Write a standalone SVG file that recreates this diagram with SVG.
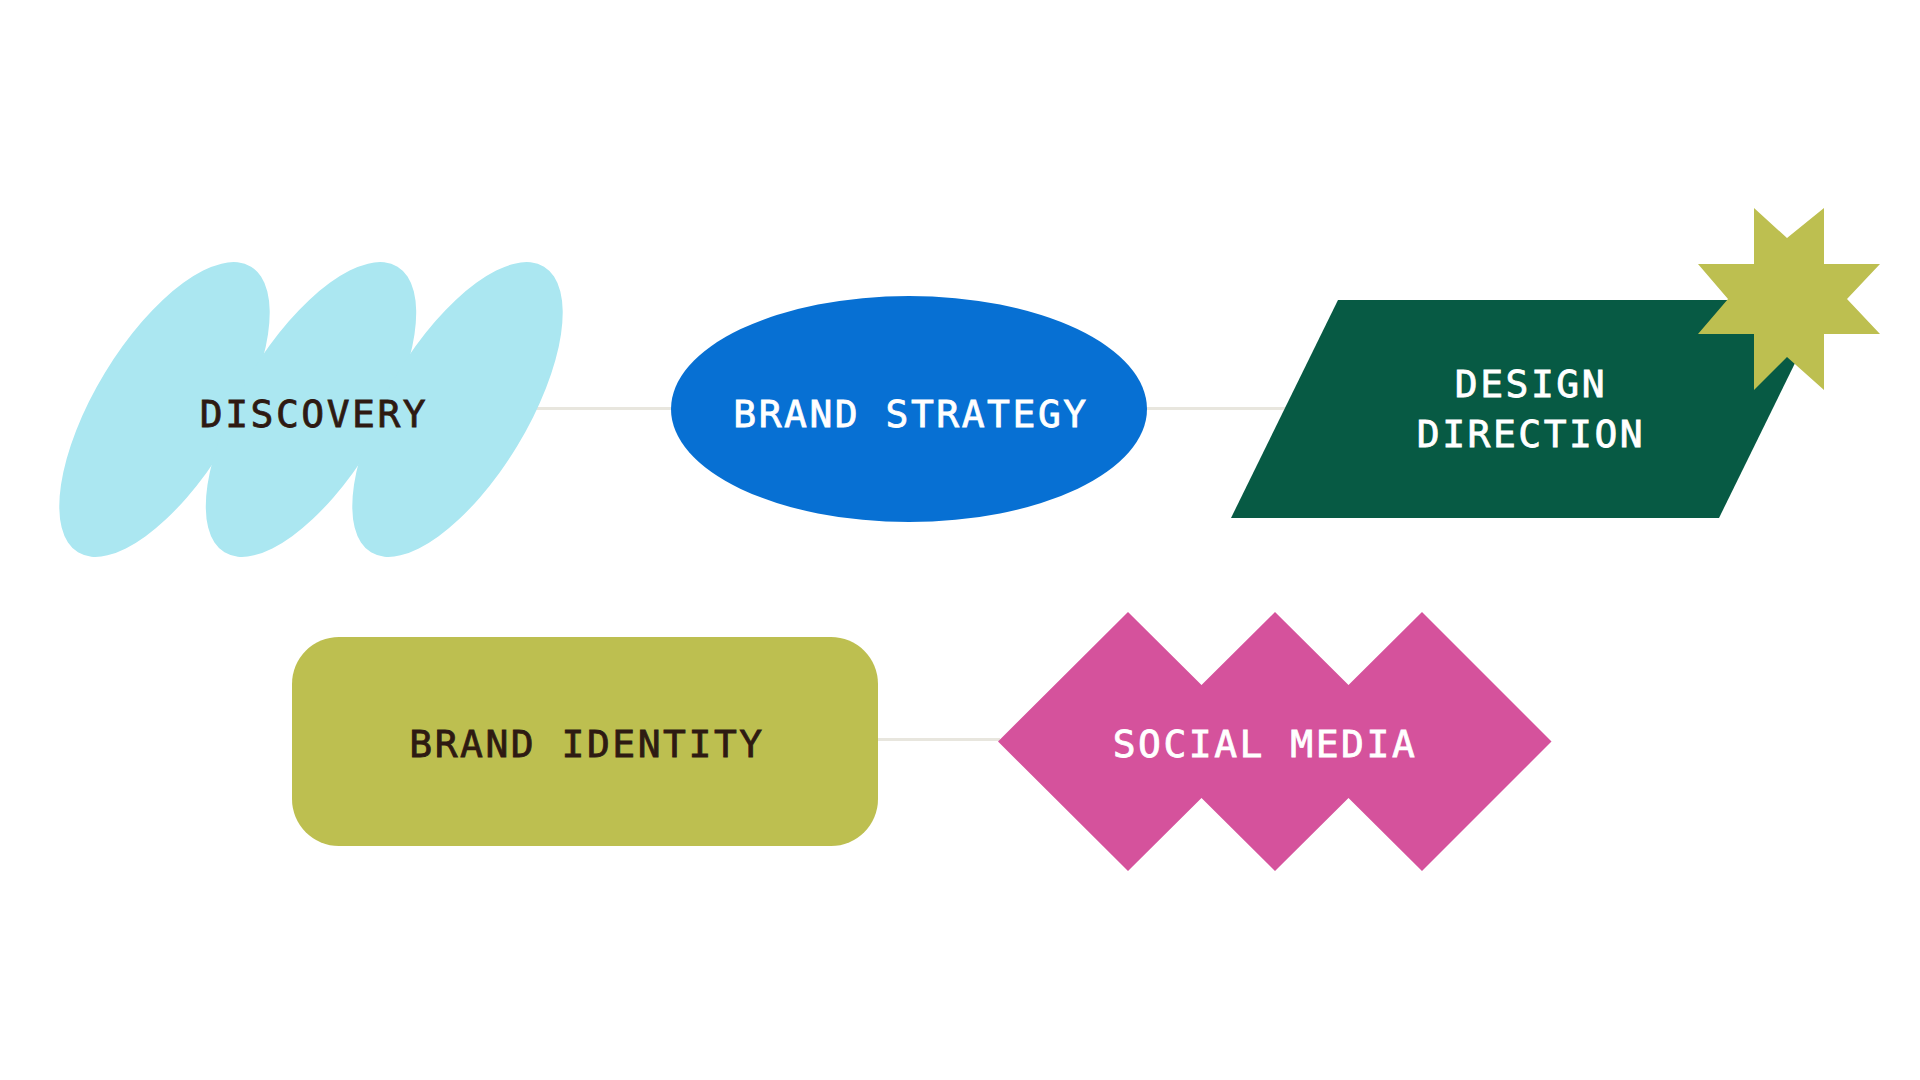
<svg xmlns="http://www.w3.org/2000/svg" width="1920" height="1080" viewBox="0 0 1920 1080">
  <style>
    .lbl { font-family: "DejaVu Sans Mono", "Liberation Mono", monospace; font-size: 38px; letter-spacing: 2.5px; text-anchor: middle; stroke-width: 0.8px; }
    .dark { fill: #2E1A12; stroke: #2E1A12; }
    .light { fill: #FFFFFF; stroke: #FFFFFF; }
    .conn { stroke: #E8E6DE; stroke-width: 3; fill: none; }
  </style>
  <rect width="1920" height="1080" fill="#FFFFFF"/>
  <g id="connectors">
    <line class="conn" x1="520" y1="408.5" x2="675" y2="408.5"/>
    <line class="conn" x1="1143" y1="408.5" x2="1287" y2="408.5"/>
    <line class="conn" x1="875" y1="739.5" x2="1000" y2="739.5"/>
  </g>
  <g id="discovery">
    <g fill="#ABE7F1">
      <ellipse cx="164.5" cy="409.5" rx="167" ry="70" transform="rotate(-58.8 164.5 409.5)"/>
      <ellipse cx="311" cy="409.5" rx="167" ry="70" transform="rotate(-58.8 311 409.5)"/>
      <ellipse cx="457.5" cy="409.5" rx="167" ry="70" transform="rotate(-58.8 457.5 409.5)"/>
    </g>
    <text class="lbl dark" x="314" y="427">DISCOVERY</text>
  </g>
  <g id="brand-strategy">
    <ellipse cx="909" cy="409" rx="238" ry="113" fill="#0770D3"/>
    <text class="lbl light" x="911" y="427">BRAND STRATEGY</text>
  </g>
  <g id="design-direction">
    <polygon points="1338,300 1826,300 1719,518 1231,518" fill="#075A44"/>
    <polygon points="1754,208 1787,238 1824,208 1824,264 1880,264 1847,299 1880,334 1824,334 1824,390 1787,357 1754,390 1754,334 1698,334 1728,299 1698,264 1754,264" fill="#BDBF50"/>
    <text class="lbl light" x="1531" y="397">DESIGN</text>
    <text class="lbl light" x="1531" y="447">DIRECTION</text>
  </g>
  <g id="brand-identity">
    <rect x="292" y="637" width="586" height="209" rx="47" ry="47" fill="#BDBF50"/>
    <text class="lbl dark" x="587" y="757">BRAND IDENTITY</text>
  </g>
  <g id="social-media">
    <polygon points="998,741.5 1128,612 1201.5,685 1275,612 1348.5,685 1422,612 1551.5,741.5 1422,871 1348.5,798 1275,871 1201.5,798 1128,871" fill="#D5529C"/>
    <text class="lbl light" x="1265" y="757">SOCIAL MEDIA</text>
  </g>
</svg>
